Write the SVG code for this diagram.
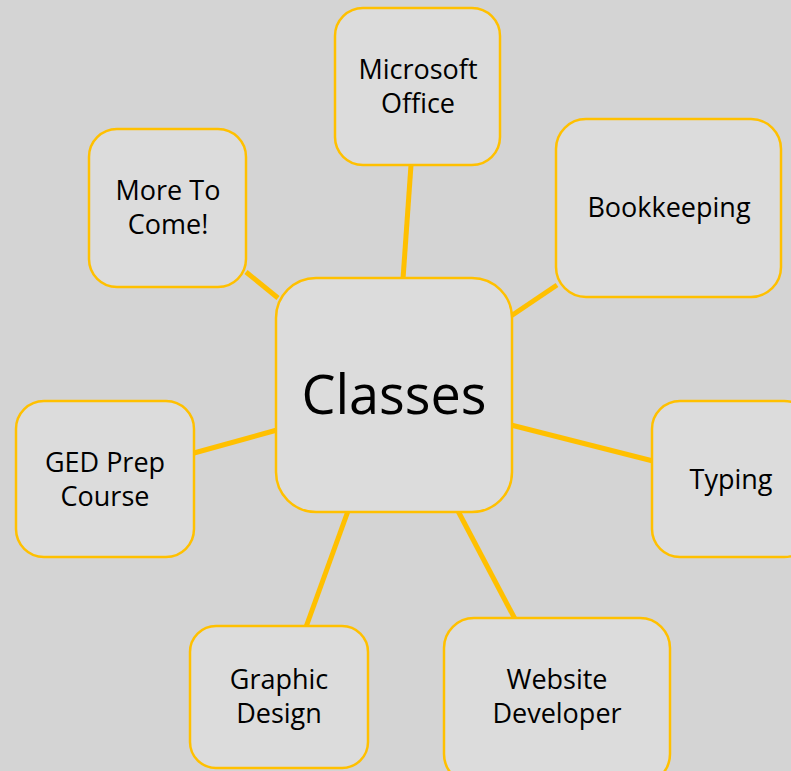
<svg xmlns="http://www.w3.org/2000/svg" width="791" height="771" viewBox="0 0 791 771">
<style>
.n{fill:#dcdcdc;stroke:#ffc000;stroke-width:2.5}
.c{stroke:#ffc000;stroke-width:5;fill:none}
.t{font-family:"Open Sans","Liberation Sans",Arial,sans-serif;font-size:27px;fill:#000;text-anchor:middle}
.big{font-size:54px}
</style>
<rect width="791" height="771" fill="#d4d4d4"/>
<g id="connectors">
<line class="c" x1="411" y1="165" x2="403" y2="279"/>
<line class="c" x1="557" y1="285" x2="511" y2="316"/>
<line class="c" x1="246" y1="272" x2="278" y2="298"/>
<line class="c" x1="194" y1="453" x2="277" y2="430"/>
<line class="c" x1="511" y1="425" x2="653" y2="461"/>
<line class="c" x1="348" y1="511" x2="306" y2="627"/>
<line class="c" x1="458" y1="511" x2="515" y2="619"/>
</g>
<g id="classes"><rect class="n" x="276" y="278" width="236" height="234" rx="40"/><text class="t big" x="394" y="414">Classes</text></g>
<g id="microsoft-office"><rect class="n" x="335" y="8" width="165" height="157" rx="28"/><text class="t" x="418" y="79">Microsoft</text><text class="t" x="418" y="113">Office</text></g>
<g id="bookkeeping"><rect class="n" x="556" y="119" width="225" height="178" rx="30"/><text class="t" x="669" y="217">Bookkeeping</text></g>
<g id="more-to-come"><rect class="n" x="89" y="129" width="157" height="158" rx="28"/><text class="t" x="168" y="200">More To</text><text class="t" x="168" y="234">Come!</text></g>
<g id="ged"><rect class="n" x="16" y="401" width="178" height="156" rx="28"/><text class="t" x="105" y="472">GED Prep</text><text class="t" x="105" y="506">Course</text></g>
<g id="typing"><rect class="n" x="652" y="401" width="160" height="156" rx="28"/><text class="t" x="731" y="489">Typing</text></g>
<g id="graphic-design"><rect class="n" x="190" y="626" width="178" height="142" rx="26"/><text class="t" x="279" y="689">Graphic</text><text class="t" x="279" y="723">Design</text></g>
<g id="website-developer"><rect class="n" x="444" y="618" width="226" height="166" rx="30"/><text class="t" x="557" y="689">Website</text><text class="t" x="557" y="723">Developer</text></g>
</svg>
